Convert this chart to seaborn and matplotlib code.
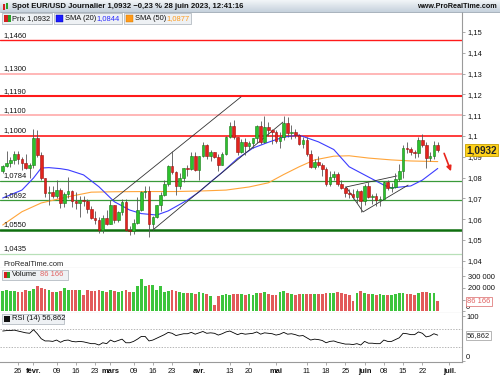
import matplotlib
matplotlib.use("Agg")
import matplotlib.pyplot as plt
from matplotlib.colors import LinearSegmentedColormap
from matplotlib.patches import Rectangle
import numpy as np
import pandas as pd
import seaborn as sns

sns.set_theme(style="white")
plt.rcParams['font.family'] = ['Liberation Sans', 'DejaVu Sans']

# EUR/USD journalier, du 20 janv. au 28 juin 2023 (un point par jour ouvré)
opens = [1.0831, 1.0856, 1.0870, 1.0886, 1.0915, 1.0890, 1.0868, 1.0847, 1.0863, 1.0991,
         1.0911, 1.0796, 1.0727, 1.0729, 1.0712, 1.0742, 1.0678, 1.0723, 1.0738, 1.0689,
         1.0676, 1.0694, 1.0686, 1.0648, 1.0605, 1.0595, 1.0547, 1.0608, 1.0576, 1.0668,
         1.0597, 1.0634, 1.0682, 1.0547, 1.0544, 1.0581, 1.0642, 1.0732, 1.0734, 1.0577,
         1.0611, 1.0669, 1.0717, 1.0768, 1.0856, 1.0828, 1.0761, 1.0800, 1.0845, 1.0843,
         1.0904, 1.0838, 1.0902, 1.0955, 1.0903, 1.0922, 1.0901, 1.0862, 1.0913, 1.0993,
         1.1047, 1.0993, 1.0925, 1.0973, 1.0954, 1.0964, 1.0990, 1.1047, 1.0972, 1.1043,
         1.1028, 1.1017, 1.0974, 1.0995, 1.1062, 1.1014, 1.1020, 1.1005, 1.0961, 1.0982,
         1.0915, 1.0850, 1.0873, 1.0862, 1.0839, 1.0771, 1.0805, 1.0815, 1.0771, 1.0749,
         1.0725, 1.0721, 1.0707, 1.0735, 1.0689, 1.0762, 1.0709, 1.0713, 1.0693, 1.0697,
         1.0780, 1.0750, 1.0754, 1.0792, 1.0833, 1.0944, 1.0939, 1.0922, 1.0917, 1.0983,
         1.0956, 1.0894, 1.0906, 1.0959]
closes = [1.0856, 1.0870, 1.0886, 1.0915, 1.0890, 1.0868, 1.0847, 1.0863, 1.0991, 1.0911,
          1.0796, 1.0727, 1.0729, 1.0712, 1.0742, 1.0678, 1.0723, 1.0738, 1.0689, 1.0676,
          1.0694, 1.0686, 1.0648, 1.0605, 1.0595, 1.0547, 1.0608, 1.0576, 1.0668, 1.0597,
          1.0634, 1.0682, 1.0547, 1.0544, 1.0581, 1.0642, 1.0732, 1.0734, 1.0577, 1.0611,
          1.0669, 1.0717, 1.0768, 1.0856, 1.0828, 1.0761, 1.0800, 1.0845, 1.0843, 1.0904,
          1.0838, 1.0902, 1.0955, 1.0903, 1.0922, 1.0901, 1.0862, 1.0913, 1.0993, 1.1047,
          1.0993, 1.0925, 1.0973, 1.0954, 1.0964, 1.0990, 1.1047, 1.0972, 1.1043, 1.1028,
          1.1017, 1.0974, 1.0995, 1.1062, 1.1014, 1.1020, 1.1005, 1.0961, 1.0982, 1.0915,
          1.0850, 1.0873, 1.0862, 1.0839, 1.0771, 1.0805, 1.0815, 1.0771, 1.0749, 1.0725,
          1.0721, 1.0707, 1.0735, 1.0689, 1.0762, 1.0709, 1.0713, 1.0693, 1.0697, 1.0780,
          1.0750, 1.0754, 1.0792, 1.0833, 1.0944, 1.0939, 1.0922, 1.0917, 1.0983, 1.0956,
          1.0894, 1.0906, 1.0959, 1.0932]
highs = [1.0862, 1.0927, 1.0900, 1.0930, 1.0930, 1.0900, 1.0915, 1.0870, 1.1033, 1.1030,
         1.0925, 1.0800, 1.0760, 1.0760, 1.0790, 1.0750, 1.0730, 1.0805, 1.0740, 1.0730,
         1.0710, 1.0710, 1.0695, 1.0665, 1.0640, 1.0610, 1.0620, 1.0645, 1.0690, 1.0670,
         1.0640, 1.0695, 1.0695, 1.0565, 1.0600, 1.0705, 1.0735, 1.0760, 1.0760, 1.0615,
         1.0670, 1.0730, 1.0790, 1.0860, 1.0930, 1.0830, 1.0820, 1.0845, 1.0860, 1.0925,
         1.0925, 1.0905, 1.0972, 1.0960, 1.0935, 1.0925, 1.0915, 1.0925, 1.1000, 1.1065,
         1.1075, 1.0995, 1.0985, 1.0990, 1.0975, 1.0990, 1.1055, 1.1070, 1.1095, 1.1065,
         1.1035, 1.1030, 1.1020, 1.1095, 1.1090, 1.1055, 1.1035, 1.1010, 1.0995, 1.0995,
         1.0935, 1.0890, 1.0905, 1.0870, 1.0850, 1.0830, 1.0830, 1.0825, 1.0790, 1.0760,
         1.0745, 1.0745, 1.0745, 1.0740, 1.0770, 1.0780, 1.0720, 1.0725, 1.0710, 1.0785,
         1.0790, 1.0775, 1.0820, 1.0865, 1.0955, 1.0970, 1.0945, 1.0935, 1.0995, 1.1012,
         1.0970, 1.0925, 1.0975, 1.0970]
lows = [1.0820, 1.0850, 1.0852, 1.0865, 1.0865, 1.0835, 1.0840, 1.0800, 1.0845, 1.0900,
        1.0790, 1.0707, 1.0670, 1.0700, 1.0700, 1.0655, 1.0660, 1.0700, 1.0660, 1.0650,
        1.0610, 1.0665, 1.0630, 1.0600, 1.0575, 1.0535, 1.0535, 1.0570, 1.0575, 1.0580,
        1.0585, 1.0620, 1.0545, 1.0525, 1.0530, 1.0575, 1.0640, 1.0700, 1.0516, 1.0550,
        1.0605, 1.0640, 1.0710, 1.0760, 1.0815, 1.0715, 1.0745, 1.0780, 1.0810, 1.0835,
        1.0830, 1.0790, 1.0900, 1.0890, 1.0880, 1.0895, 1.0830, 1.0860, 1.0910, 1.0990,
        1.0985, 1.0910, 1.0920, 1.0910, 1.0935, 1.0940, 1.0965, 1.0960, 1.0965, 1.1000,
        1.0960, 1.0965, 1.0940, 1.0980, 1.0995, 1.0985, 1.0990, 1.0955, 1.0940, 1.0905,
        1.0845, 1.0840, 1.0850, 1.0810, 1.0760, 1.0760, 1.0790, 1.0760, 1.0745, 1.0705,
        1.0700, 1.0695, 1.0680, 1.0635, 1.0670, 1.0700, 1.0675, 1.0665, 1.0665, 1.0695,
        1.0740, 1.0730, 1.0750, 1.0785, 1.0800, 1.0920, 1.0910, 1.0895, 1.0900, 1.0945,
        1.0845, 1.0880, 1.0890, 1.0925]
volumes = [177000, 186000, 171000, 171000, 166000, 166000, 180000, 177000, 194000, 214000,
           200000, 190000, 186000, 166000, 166000, 177000, 200000, 186000, 186000, 186000,
           180000, 143000, 186000, 177000, 171000, 186000, 177000, 166000, 186000, 177000,
           166000, 171000, 180000, 166000, 163000, 214000, 280000, 214000, 228000, 228000,
           180000, 214000, 163000, 171000, 180000, 177000, 163000, 157000, 157000, 157000,
           150000, 168000, 157000, 146000, 128000, 57000, 128000, 143000, 148000, 143000,
           148000, 148000, 148000, 143000, 148000, 143000, 157000, 160000, 166000, 146000,
           143000, 140000, 166000, 171000, 160000, 150000, 143000, 146000, 148000, 150000,
           146000, 150000, 148000, 150000, 157000, 160000, 157000, 166000, 157000, 150000,
           143000, 85000, 157000, 171000, 160000, 146000, 146000, 143000, 146000, 140000,
           140000, 135000, 150000, 160000, 157000, 150000, 150000, 135000, 160000, 165000,
           165000, 160000, 157000, 86166]
rsi14 = [66, 67, 67, 68, 66, 64, 62, 61, 69, 60,
         49, 44, 44, 43, 46, 41, 45, 46, 43, 42,
         43, 42, 40, 38, 38, 35, 40, 38, 46, 42,
         45, 48, 40, 40, 43, 48, 54, 54, 44, 46,
         50, 54, 58, 63, 61, 56, 58, 60, 60, 63,
         59, 62, 65, 61, 62, 61, 57, 60, 64, 66,
         62, 58, 61, 59, 60, 61, 64, 59, 62, 61,
         60, 57, 59, 63, 59, 60, 58, 55, 56, 51,
         46, 48, 47, 45, 40, 43, 44, 41, 39, 37,
         37, 36, 38, 35, 43, 39, 39, 38, 38, 46,
         43, 43, 47, 51, 61, 60, 58, 58, 64, 61,
         53, 55, 60, 56.862]

# moyennes mobiles
sma20_jour = [0, 5, 8, 10, 12, 15, 17, 21, 25, 29, 33, 36, 40, 43, 48, 51, 54, 57, 61, 65,
              69, 73, 77, 80, 82, 86, 90, 95, 99, 101, 106, 109, 113]
sma20 = [1.0702, 1.0740, 1.0798, 1.0846, 1.0848, 1.0843, 1.0837, 1.0813, 1.0756, 1.0684,
         1.0644, 1.0627, 1.0620, 1.0640, 1.0692, 1.0731, 1.0779, 1.0825, 1.0892, 1.0942,
         1.0970, 1.0995, 1.1004, 1.0985, 1.0972, 1.0935, 1.0852, 1.0803, 1.0764, 1.0750,
         1.0760, 1.0788, 1.0844]
sma50_jour = [0, 5, 10, 17, 23, 29, 37, 45, 52, 58, 64, 69, 73, 77, 81, 86, 90, 95, 101, 106, 113]
sma50 = [1.0572, 1.0636, 1.0678, 1.0708, 1.0730, 1.0732, 1.0733, 1.0733, 1.0736, 1.0740,
         1.0755, 1.0775, 1.0815, 1.0852, 1.0885, 1.0903, 1.0905, 1.0894, 1.0885, 1.0880, 1.0877]

# supports / résistances tracés
levels = [1.1460, 1.1300, 1.1190, 1.1100, 1.1000, 1.0784, 1.0692, 1.0550, 1.0435]
level_labels = ["1,1460", "1,1300", "1,1190", "1,1100", "1,1000", "1,0784", "1,0692", "1,0550", "1,0435"]
level_colors = ["#ff1a1a", "#ffaaaa", "#ff1a1a", "#ffaaaa", "#ff1a1a", "#3a9a3a", "#3a9a3a", "#0f6e0f", "#b8e0b8"]
level_widths = [1.0, 1.2, 1.5, 1.2, 1.2, 0.9, 0.9, 1.8, 0.9]

# lignes de tendance (jour, prix)
chan_up = ([28.6, 61.9], [1.0692, 1.1188])
chan_dn = ([39.0, 72.8], [1.0548, 1.1067])
wedge = ([102.4, 89.2, 93.6, 105.3], [1.0808, 1.0755, 1.0635, 1.0764])
arrow_from = (114.4, 1.0929)
arrow_to = (116.7, 1.0818)

axis_days = pd.bdate_range("2023-01-20", "2023-07-03")
tick_dates = ["2023-01-26", "2023-02-01", "2023-02-09", "2023-02-16", "2023-02-23", "2023-03-01",
              "2023-03-09", "2023-03-16", "2023-03-23", "2023-04-03", "2023-04-13", "2023-04-20",
              "2023-05-01", "2023-05-11", "2023-05-18", "2023-05-25", "2023-06-01", "2023-06-08",
              "2023-06-15", "2023-06-22", "2023-07-03"]
tick_labels = ["26", "févr.", "09", "16", "23", "mars", "09", "16", "23", "avr.", "13", "20",
               "mai", "11", "18", "25", "juin", "08", "15", "22", "juil."]
tick_jours = axis_days.get_indexer(pd.to_datetime(tick_dates))

df = pd.DataFrame({"jour": np.arange(len(closes)), "open": opens, "high": highs,
                   "low": lows, "close": closes, "volume": volumes, "rsi": rsi14})
df["sens"] = np.where(df["close"] >= df["open"], "hausse", "baisse")

W, H = 500, 375
fig = plt.figure(figsize=(W / 100, H / 100), dpi=100)


def box(x0, y0, x1, y1):
    return [x0 / W, 1 - y1 / H, (x1 - x0) / W, (y1 - y0) / H]


ax_p = fig.add_axes(box(0, 12, 462, 268))
ax_v = fig.add_axes(box(0, 268, 462, 313))
ax_r = fig.add_axes(box(0, 313, 462, 362))
FS = 5.4
XLIM = (-0.7, 119.3)


def right_label(ax, y, text, dy=0):
    # libellé d'axe droit décalé verticalement de dy pixels
    ax.annotate(text, xy=(1, y), xycoords=("axes fraction", "data"), xytext=(4, dy),
                textcoords="offset pixels", fontsize=FS, va="center", ha="left", color="#111",
                annotation_clip=False)


# --- prix ---
for lvl, lab, col, lw in zip(levels, level_labels, level_colors, level_widths):
    ax_p.axhline(lvl, color=col, lw=lw, zorder=1)
    ax_p.annotate(lab, xy=(0, lvl), xycoords=("axes fraction", "data"), xytext=(3, 1.5),
                  textcoords="offset pixels", fontsize=FS, va="bottom", ha="left", color="#111")

sns.lineplot(x=sma50_jour, y=sma50, color="#ffa53a", linewidth=0.8, ax=ax_p, zorder=2)
sns.lineplot(x=sma20_jour, y=sma20, color="#3c3cff", linewidth=0.8, ax=ax_p, zorder=2)

ax_p.plot(*chan_up, color="#333333", lw=0.6, zorder=2)
ax_p.plot(*chan_dn, color="#333333", lw=0.6, zorder=2)
ax_p.plot(*wedge, color="#333333", lw=0.6, zorder=2)

body_col = df["sens"].map({"hausse": "#2cc22c", "baisse": "#e3241c"})
edge_col = df["sens"].map({"hausse": "#167a16", "baisse": "#9a1010"})
ax_p.vlines(df["jour"], df["low"], df["high"], color="#555555", lw=0.6, zorder=3)
body = (df["close"] - df["open"]).abs().clip(lower=0.0003)
ax_p.bar(df["jour"], body, bottom=df[["open", "close"]].min(axis=1), width=0.68,
         color=body_col, edgecolor=edge_col, linewidth=0.4, zorder=4)

ax_p.annotate("", xy=arrow_to, xytext=arrow_from,
              arrowprops=dict(arrowstyle="-|>", color="#e8251c", lw=1.2, mutation_scale=7), zorder=5)

ax_p.set_ylim(1.03654, 1.15962)
yt = np.round(np.arange(1.04, 1.1501, 0.01), 2)
ax_p.set_yticks(yt)
ax_p.set_yticklabels([f"{v:g}".replace(".", ",") for v in yt])
for t, v in zip(ax_p.get_yticklabels(), yt):
    if v in (1.05, 1.1, 1.15):
        t.set_fontweight("bold")
ax_p.annotate("1,0932", xy=(1, closes[-1]), xycoords=("axes fraction", "data"), xytext=(4, 0),
              textcoords="offset pixels", fontsize=7.2, fontweight="bold", va="center", ha="left",
              bbox=dict(boxstyle="square,pad=0.12", fc="#ffd21a", ec="#c8a000", lw=0.6),
              annotation_clip=False, zorder=10)

# --- volume ---
sns.barplot(data=df, x="jour", y="volume", hue="sens", native_scale=True, dodge=False,
            palette={"hausse": "#3cc43c", "baisse": "#e25a5a"}, width=0.72, saturation=1,
            legend=False, linewidth=0, ax=ax_v)
ax_v.set_ylim(-15000, 370000)
# le libellé 100 000 est masqué par l'étiquette du dernier volume
ax_v.set_yticks([0, 100000, 200000, 300000])
ax_v.set_yticklabels(["", "", "200 000", "300 000"])
right_label(ax_v, 0, "0", dy=3.5)
ax_v.annotate("86 166", xy=(1, volumes[-1]), xycoords=("axes fraction", "data"), xytext=(5, 0),
              textcoords="offset pixels", fontsize=FS, color="#e06060", va="center", ha="left",
              bbox=dict(boxstyle="square,pad=0.15", fc="white", ec="#e08080", lw=0.6),
              annotation_clip=False, zorder=10)

# --- RSI ---
ax_r.axhline(70, color="#999999", lw=0.5, ls=(0, (2, 2)))
ax_r.axhline(30, color="#999999", lw=0.5, ls=(0, (2, 2)))
sns.lineplot(data=df, x="jour", y="rsi", color="black", linewidth=0.6, ax=ax_r)
ax_r.set_ylim(-2.7, 106)
ax_r.set_yticks([0, 100])
ax_r.set_yticklabels(["", ""])
right_label(ax_r, 100, "100", dy=-1.5)
right_label(ax_r, 0, "0", dy=3.5)
ax_r.annotate("56,862", xy=(1, rsi14[-1]), xycoords=("axes fraction", "data"), xytext=(5, 0),
              textcoords="offset pixels", fontsize=FS, color="#222", va="center", ha="left",
              bbox=dict(boxstyle="square,pad=0.15", fc="white", ec="#aaaaaa", lw=0.6),
              annotation_clip=False, zorder=10)
ax_r.set_xticks(tick_jours)
ax_r.set_xticklabels(tick_labels)
for t, lab in zip(ax_r.get_xticklabels(), tick_labels):
    if not lab.isdigit():
        t.set_fontweight("bold")

for ax in (ax_p, ax_v, ax_r):
    ax.set_xlim(*XLIM)
    ax.set_xlabel("")
    ax.set_ylabel("")
    ax.set_facecolor("white")
    ax.yaxis.tick_right()
    ax.tick_params(axis="y", right=True, left=False, direction="out", length=2.5, width=0.5,
                   color="#888888", labelsize=FS, pad=1.5, labelcolor="#111")
    ax.spines["left"].set_visible(False)
    ax.spines["top"].set_visible(False)
    for s in ("right", "bottom"):
        ax.spines[s].set_color("#9a9a9a")
        ax.spines[s].set_linewidth(0.8)
for ax in (ax_p, ax_v):
    ax.tick_params(axis="x", bottom=False, labelbottom=False)
ax_r.tick_params(axis="x", bottom=True, direction="out", length=2, width=0.5, color="#888888",
                 labelsize=FS, pad=2, labelcolor="#111")

# --- en-tête et légendes (coordonnées pixels) ---
ov = fig.add_axes([0, 0, 1, 1], zorder=20)
ov.axis("off")
grad = np.linspace(0, 1, 24).reshape(-1, 1)
ov.imshow(grad, extent=(0, W, 12, 0), aspect="auto",
          cmap=LinearSegmentedColormap.from_list("hdr", ["#f2f5f8", "#c6d2dd"]))
ov.plot([0, W], [12, 12], color="#9aa6b2", lw=0.6)
ov.add_patch(Rectangle((2.5, 3.5), 2.2, 6, fc="#d42020", ec="none"))
ov.add_patch(Rectangle((6, 2.5), 2.2, 6, fc="#2aa02a", ec="none"))
ov.text(11.5, 6.3, "Spot EUR/USD Journalier 1,0932 \u22120,23 % 28 juin 2023, 12:41:16",
        fontsize=5.6, fontweight="bold", va="center", ha="left", color="#111")
ov.text(497, 6.3, "www.ProRealTime.com", fontsize=5.2, fontweight="bold", va="center", ha="right",
        color="#111")


def legend_box(x0, x1, y0, y1):
    ov.add_patch(Rectangle((x0, y0), x1 - x0, y1 - y0, fc="#eef1f4", ec="#a8b0b8", lw=0.5))


yl = 18.5
legend_box(2, 52, 13, 24)
ov.add_patch(Rectangle((4, 15), 3.5, 7, fc="#d42020", ec="none"))
ov.add_patch(Rectangle((7.5, 15), 3.5, 7, fc="#2aa02a", ec="none"))
ov.text(12, yl, "Prix 1,0932", fontsize=FS, va="center", color="#111")
legend_box(54, 122, 13, 24)
ov.add_patch(Rectangle((56, 15), 7, 7, fc="#1a1aff", ec="#0000aa", lw=0.3))
ov.text(65, yl, "SMA (20)", fontsize=FS, va="center", color="#111")
ov.text(96, yl, "1,0844", fontsize=FS, va="center", color="#2a2aff")
legend_box(124, 191, 13, 24)
ov.add_patch(Rectangle((126, 15), 7, 7, fc="#ff9a1a", ec="#cc7700", lw=0.3))
ov.text(135, yl, "SMA (50)", fontsize=FS, va="center", color="#111")
ov.text(166, yl, "1,0877", fontsize=FS, va="center", color="#ff9a1a")

ov.text(3, 264.5, "ProRealTime.com", fontsize=FS, va="center", color="#222")

legend_box(2, 68, 269.5, 279.5)
ov.add_patch(Rectangle((4, 271.5), 3, 6, fc="#d42020", ec="none"))
ov.add_patch(Rectangle((7, 271.5), 3, 6, fc="#2aa02a", ec="none"))
ov.text(12, 274.7, "Volume", fontsize=FS, va="center", color="#111")
ov.text(40, 274.7, "86 166", fontsize=FS, va="center", color="#e06060")

legend_box(2, 64, 313.5, 323.5)
ov.add_patch(Rectangle((4, 315.5), 6, 6, fc="#111111", ec="none"))
ov.text(12, 318.7, "RSI (14) 56,862", fontsize=FS, va="center", color="#111")

ov.set_xlim(0, W)
ov.set_ylim(H, 0)

fig.savefig("out.png", dpi=100, facecolor="white")
